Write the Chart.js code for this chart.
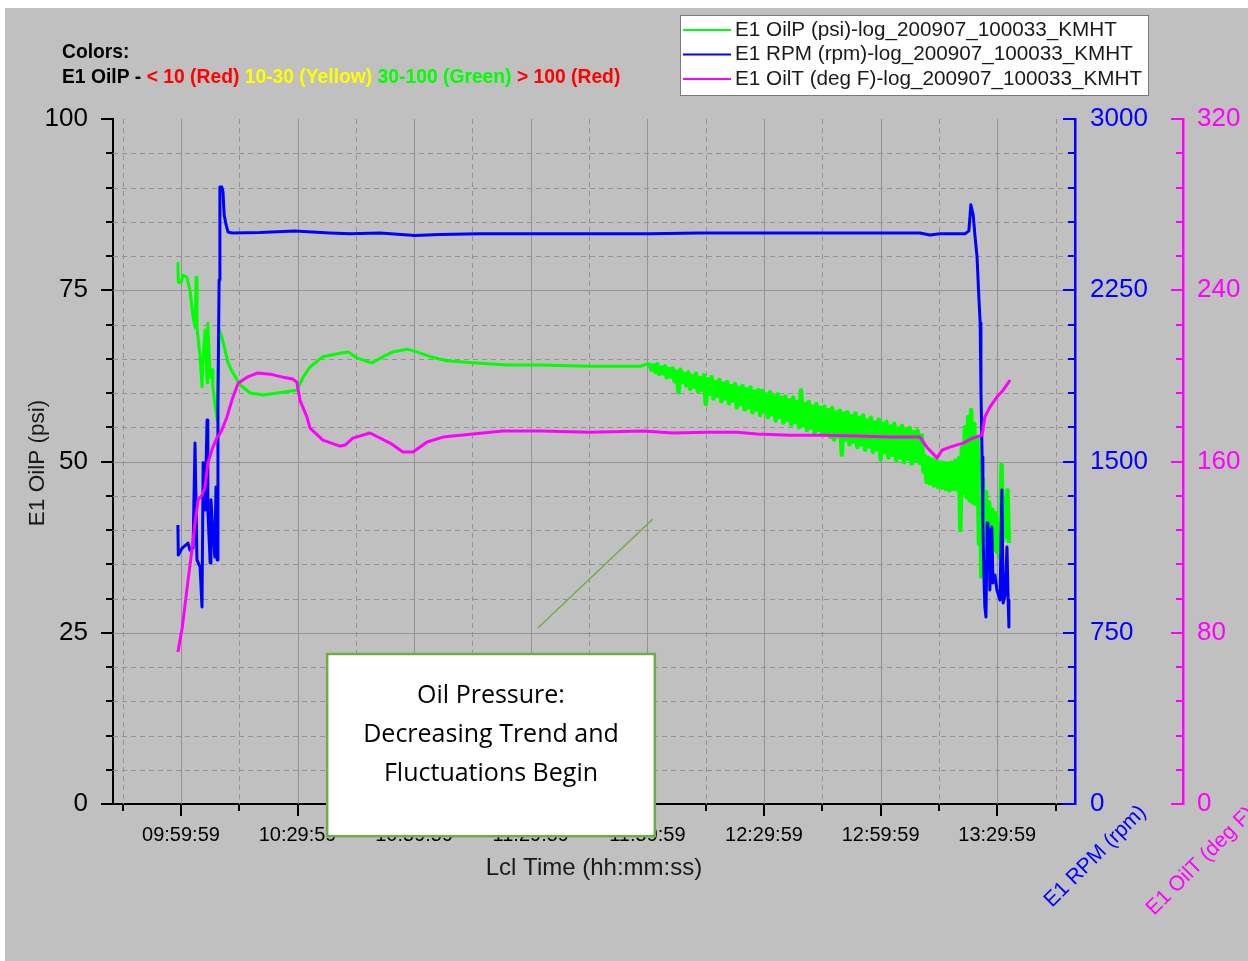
<!DOCTYPE html>
<html>
<head>
<meta charset="utf-8">
<title>E1 OilP / RPM / OilT</title>
<script src="https://cdn.jsdelivr.net/npm/chart.js@4.4.0/dist/chart.umd.min.js"></script>
<style>
    html, body { margin: 0; padding: 0; background: #ffffff; }
    #engineChart { display: block; }
</style>
</head>
<body>
<canvas id="engineChart" width="1248" height="961"></canvas>
<script>
"use strict";

// times are minutes after midnight (local time), e.g. 600 = 10:00:00
const timeTickLabels = ['09:59:59', '10:29:59', '10:59:59', '11:29:59', '11:59:59', '12:29:59', '12:59:59', '13:29:59'];
const timeRange = ['09:42:30', '13:50:00'];

const oilpTicks = [0, 25, 50, 75, 100];
const rpmTicks = [0, 750, 1500, 2250, 3000];
const oiltTicks = [0, 80, 160, 240, 320];

const seriesLabels = [
    'E1 OilP (psi)-log_200907_100033_KMHT',
    'E1 RPM (rpm)-log_200907_100033_KMHT',
    'E1 OilT (deg F)-log_200907_100033_KMHT'
];

// the pressure signal gets noisy from about 12:00 on
const oilpNoisyFrom = 720;

const oilpTime = [
    599.2, 599.3, 600.0, 600.5, 601.5, 602.3, 603.1, 603.6, 603.9, 604.1,
    604.9, 605.4, 605.7, 606.2, 606.7, 606.9, 607.5, 608.0, 608.2, 608.7,
    609.3, 609.8, 610.5, 611.3, 612.1, 613.4, 615.2, 617.8, 621.1, 626.2,
    629.8, 631.4, 633.2, 636.5, 640.9, 643.0, 645.3, 649.1, 652.0, 654.5,
    658.1, 660.7, 664.1, 668.4, 675.1, 683.9, 692.4, 705.2, 718.1,
    720.5, 721, 721.5, 722, 722.5, 723, 723.5, 724, 724.5, 725,
    725.5, 726, 726.5, 727, 727.5, 728, 728.5, 729, 729.5, 730,
    730.5, 731, 731.5, 732, 732.5, 733, 733.5, 734, 734.5, 735,
    735.5, 736, 736.5, 737, 737.5, 738, 738.5, 739, 739.5, 740,
    740.5, 741, 741.5, 742, 742.5, 743, 743.5, 744, 744.5, 745,
    745.5, 746, 746.5, 747, 747.5, 748, 748.5, 749, 749.5, 750,
    750.5, 751, 751.5, 752, 752.5, 753, 753.5, 754, 754.5, 755,
    755.5, 756, 756.5, 757, 757.5, 758, 758.5, 759, 759.5, 760,
    760.5, 761, 761.5, 762, 762.5, 763, 763.5, 764, 764.5, 765,
    765.5, 766, 766.5, 767, 767.5, 768, 768.5, 769, 769.5, 770,
    770.5, 771, 771.5, 772, 772.5, 773, 773.5, 774, 774.5, 775,
    775.5, 776, 776.5, 777, 777.5, 778, 778.5, 779, 779.5, 780,
    780.5, 781, 781.5, 782, 782.5, 783, 783.5, 784, 784.5, 785,
    785.5, 786, 786.5, 787, 787.5, 788, 788.5, 789, 789.5, 790,
    790.6, 791.0, 791.4, 791.8, 792.3, 792.7, 793.2, 793.7, 794.2, 794.7,
    795.2, 795.7, 796.2, 796.7, 797.2, 797.7, 798.2, 798.7, 799.2, 799.7,
    800.2, 800.5, 800.9, 801.3, 801.7, 802.1, 802.5, 802.9, 803.3, 803.7,
    804.1, 804.5, 804.9, 805.3, 805.6, 805.9, 806.3, 806.7, 807.1, 807.5,
    807.9, 808.3, 808.7, 809.1, 809.5, 809.9, 810.3, 810.7, 811.1, 811.5,
    811.9, 812.3, 812.6, 813.0
];
const oilpPsi = [
    79.1, 76.2, 76.1, 77.2, 76.9, 75.0, 71.1, 69.6, 76.9, 69.6,
    65.3, 60.9, 65.3, 69.2, 61.5, 70.2, 62.3, 63.4, 60.9, 58.5,
    56.1, 69.2, 68.2, 66.3, 64.4, 62.9, 61.2, 60.0, 59.7, 60.1,
    60.4, 62.3, 63.8, 65.3, 65.8, 66.0, 65.1, 64.4, 65.3, 66.0,
    66.4, 66.0, 65.3, 64.7, 64.4, 64.1, 64.1, 63.9, 63.9,
    64.3, 63.4, 64.0, 63.1, 64.2, 62.8, 63.7, 62.9, 63.9, 62.3,
    63.5, 62.4, 63.6, 61.7, 63.1, 60.1, 63.4, 61.6, 62.8, 61.1,
    63.0, 60.6, 62.5, 60.9, 62.8, 60.2, 62.2, 60.5, 62.6, 58.4,
    62.0, 59.9, 62.3, 59.2, 61.6, 59.6, 61.9, 58.8, 61.4, 59.2,
    61.6, 58.5, 61.0, 58.9, 61.3, 57.9, 60.8, 58.4, 61.0, 57.6,
    60.5, 57.9, 60.8, 57.2, 60.2, 57.6, 60.4, 56.8, 60.3, 57.3,
    59.8, 56.5, 60.1, 56.9, 59.5, 56.0, 59.8, 56.5, 59.3, 55.7,
    59.5, 56.1, 58.9, 55.4, 59.3, 55.8, 58.7, 55.0, 60.4, 55.3,
    58.4, 54.6, 58.7, 55.0, 58.0, 54.2, 58.4, 54.6, 57.8, 53.9,
    58.0, 54.2, 57.5, 53.6, 57.8, 53.2, 57.2, 53.7, 57.4, 51.0,
    57.0, 53.2, 57.2, 52.5, 56.6, 52.9, 57.0, 52.1, 56.4, 52.5,
    56.7, 51.7, 56.0, 52.2, 56.4, 51.4, 55.7, 51.8, 56.1, 50.3,
    55.5, 51.4, 55.8, 50.6, 55.1, 51.0, 55.5, 50.2, 54.8, 50.6,
    55.2, 49.9, 54.6, 50.4, 54.9, 49.7, 54.3, 50.2, 54.5, 49.8,
    53.8, 48.5, 50.8, 47.0, 50.5, 46.8, 50.3, 46.5, 50.1, 46.3,
    49.9, 46.2, 49.8, 46.0, 49.7, 45.8, 49.8, 46.0, 50.1, 45.9,
    50.5, 40.0, 52.0, 45.5, 55.0, 44.8, 56.5, 44.3, 57.5, 44.0,
    55.5, 43.8, 53.5, 38.0, 50.0, 33.2, 47.5, 38.5, 45.5, 40.0,
    44.0, 36.5, 43.0, 37.2, 42.5, 36.8, 41.0, 36.0, 49.5, 38.5,
    44.5, 39.0, 45.8, 38.1
];

const rpmTime = [
    599.2, 599.3, 600.3, 601.8, 602.3, 603.1, 603.6, 604.1, 604.9, 605.4,
    605.7, 606.2, 606.7, 606.9, 607.5, 607.7, 608.2, 608.7, 609.0, 609.3,
    609.5, 609.8, 610.0, 610.5, 610.8, 611.1, 611.6, 612.1, 613.1, 620.3,
    629.3, 638.3, 643.5, 651.2, 660.2, 666.6, 676.9, 689.8, 707.8, 720.7,
    733.5, 749.0, 764.4, 779.8, 790.1, 792.7, 795.3, 801.7, 802.7, 803.2,
    803.8, 804.3, 804.8, 805.3, 805.6, 805.8, 806.1, 806.3, 806.6, 806.8,
    807.1, 807.4, 807.6, 807.9, 808.1, 808.6, 808.9, 809.4, 809.9, 810.7,
    811.2, 811.5, 812.0, 812.5, 812.8, 813.0
];
const rpmValues = [
    1222, 1090, 1121, 1143, 1112, 1121, 1581, 1069, 1038, 863,
    1494, 1288, 1682, 1288, 1056, 1332, 1200, 1082, 1388, 1069,
    1756, 2295, 2702, 2702, 2681, 2580, 2536, 2505, 2501, 2503,
    2510, 2501, 2497, 2501, 2490, 2494, 2497, 2497, 2497, 2497,
    2501, 2501, 2501, 2501, 2501, 2492, 2497, 2497, 2510, 2624,
    2580, 2483, 2396, 2207, 2107, 1813, 1520, 1231, 981, 863,
    819, 1231, 1134, 1200, 937, 1213, 968, 1003, 937, 893,
    1375, 880, 915, 1126, 893, 775
];

const oiltTime = [
    599.2, 600.3, 601.5, 602.8, 603.6, 604.4, 605.4, 606.2, 606.9, 608.2,
    609.3, 609.8, 610.5, 611.8, 613.1, 614.7, 617.0, 619.6, 622.9, 626.2,
    628.8, 629.8, 630.6, 632.4, 633.2, 636.5, 640.9, 642.2, 644.2, 648.6,
    653.8, 657.1, 659.7, 663.3, 667.4, 675.1, 682.8, 692.4, 705.2, 718.9,
    726.6, 735.3, 743.0, 748.2, 756.7, 765.2, 773.9, 782.4, 790.1, 791.9,
    794.5, 795.8, 797.8, 801.2, 803.8, 806.1, 806.8, 808.1, 809.9, 811.5,
    813.3
];
const oiltDegF = [
    71.0, 82.2, 99.9, 118.6, 131.2, 142.0, 144.3, 148.0, 159.2, 166.7,
    171.4, 172.3, 174.7, 180.7, 188.7, 196.6, 199.4, 201.3, 200.8, 199.4,
    198.5, 197.1, 188.7, 180.7, 175.6, 170.0, 167.2, 167.7, 170.9, 173.3,
    168.6, 164.4, 164.4, 169.1, 171.4, 172.8, 174.2, 174.2, 173.7, 174.2,
    173.3, 173.7, 173.7, 172.8, 172.3, 172.3, 171.9, 171.4, 171.4, 166.7,
    161.6, 165.3, 166.7, 168.6, 171.0, 172.3, 180.7, 185.4, 190.1, 193.3,
    198.0
];

// callout, in [minutes, psi]
const noteBox = [637.6, 21.9, 721.9, -4.7];
const notePointer = [691.8, 25.7, 721.4, 41.6];
const noteLines = ['Oil Pressure:', 'Decreasing Trend and', 'Fluctuations Begin'];

const colorKey = [
    ['E1 OilP - ', '#000000'],
    ['< 10 (Red) ', '#ff0000'],
    ['10-30 (Yellow) ', '#ffff00'],
    ['30-100 (Green) ', '#00ff00'],
    ['> 100 (Red)', '#ff0000']
];

const GREEN = '#00ff00';
const BLUE = '#0000ff';
const MAGENTA = '#ff00ff';
const FONT = '"Liberation Sans", Arial, sans-serif';

function toMinutes(hms) {
    const p = hms.split(':').map(Number);
    return p[0] * 60 + p[1] + p[2] / 60;
}

function toPoints(xs, ys) {
    return xs.map((x, i) => ({ x: x, y: ys[i] }));
}

// majors plus (parts - 1) minor ticks between each pair
function withMinor(majors, parts) {
    const out = [];
    for (let i = 0; i < majors.length; i++) {
        out.push({ value: majors[i], isMajor: true });
        if (i < majors.length - 1) {
            const step = (majors[i + 1] - majors[i]) / parts;
            for (let k = 1; k < parts; k++) {
                out.push({ value: majors[i] + k * step, isMajor: false });
            }
        }
    }
    return out;
}

const xMin = toMinutes(timeRange[0]);
const xMax = toMinutes(timeRange[1]);

function timeTicks() {
    const out = [];
    timeTickLabels.forEach(label => {
        const t = toMinutes(label);
        out.push({ value: t - 15, isMajor: false });
        out.push({ value: t, isMajor: true, text: label });
    });
    const last = toMinutes(timeTickLabels[timeTickLabels.length - 1]);
    out.push({ value: last + 15, isMajor: false });
    return out.filter(t => t.value >= xMin && t.value <= xMax);
}

function sideAxis(min, max, majors, color, width, pad, weight) {
    return {
        type: 'linear',
        position: 'right',
        weight: weight,
        min: min,
        max: max,
        afterBuildTicks: scale => { scale.ticks = withMinor(majors, 5); },
        afterFit: scale => { scale.width = width; },
        grid: { display: false, drawTicks: false },
        border: { display: true, color: color, width: 2.5 },
        ticks: {
            autoSkip: false,
            padding: pad,
            color: color,
            font: { family: FONT, size: 26 },
            callback: value => majors.includes(value) ? String(value) : ''
        }
    };
}

function drawTickMarks(ctx, scale, color, dir, vertical) {
    ctx.strokeStyle = color;
    scale.ticks.forEach(t => {
        const len = t.isMajor ? 12 : 7;
        const p = Math.round(scale.getPixelForValue(t.value));
        ctx.beginPath();
        if (vertical) {
            const x0 = dir < 0 ? scale.right : scale.left;
            ctx.moveTo(x0, p);
            ctx.lineTo(x0 - len, p);
        } else {
            ctx.moveTo(p, scale.top);
            ctx.lineTo(p, scale.top + len);
        }
        ctx.stroke();
    });
}

const decor = {
    id: 'decor',
    beforeDraw(chart) {
        const ctx = chart.ctx;
        ctx.save();
        ctx.fillStyle = '#ffffff';
        ctx.fillRect(0, 0, chart.width, chart.height);
        ctx.fillStyle = '#c0c0c0';
        ctx.fillRect(5, 8, chart.width - 5, chart.height - 8);
        ctx.restore();
    },
    beforeDatasetsDraw(chart) {
        const { ctx, chartArea: a, scales } = chart;
        ctx.save();
        ctx.lineWidth = 1;
        ctx.strokeStyle = '#939393';
        scales.x.ticks.forEach(t => {
            const px = Math.round(scales.x.getPixelForValue(t.value)) + 0.5;
            ctx.setLineDash(t.isMajor ? [] : [5, 4]);
            ctx.beginPath();
            ctx.moveTo(px, a.top);
            ctx.lineTo(px, a.bottom);
            ctx.stroke();
        });
        scales.y.ticks.forEach(t => {
            if (t.value <= 0 || t.value >= 100) return;
            const py = Math.round(scales.y.getPixelForValue(t.value)) + 0.5;
            ctx.setLineDash(t.isMajor ? [] : [5, 4]);
            ctx.beginPath();
            ctx.moveTo(a.left, py);
            ctx.lineTo(a.right, py);
            ctx.stroke();
        });
        ctx.restore();
    },
    afterDraw(chart) {
        const { ctx, scales } = chart;
        const x = scales.x, y = scales.y;
        ctx.save();

        // tick marks
        ctx.lineWidth = 2;
        drawTickMarks(ctx, x, '#000000', 1, false);
        drawTickMarks(ctx, y, '#000000', -1, true);
        drawTickMarks(ctx, scales.y1, BLUE, 1, true);
        drawTickMarks(ctx, scales.y2, MAGENTA, 1, true);

        // axis titles
        ctx.fillStyle = '#1a1a1a';
        ctx.textAlign = 'center';
        ctx.textBaseline = 'middle';
        ctx.font = '24px ' + FONT;
        ctx.fillText('Lcl Time (hh:mm:ss)', 594, 868);
        ctx.save();
        ctx.translate(38, 463);
        ctx.rotate(-Math.PI / 2);
        ctx.font = '22.5px ' + FONT;
        ctx.fillText('E1 OilP (psi)', 0, 0);
        ctx.restore();

        ctx.textAlign = 'left';
        ctx.textBaseline = 'alphabetic';
        ctx.font = '21px ' + FONT;
        [['E1 RPM (rpm)', BLUE, 1052, 908], ['E1 OilT (deg F)', MAGENTA, 1154, 916]].forEach(r => {
            ctx.save();
            ctx.translate(r[2], r[3]);
            ctx.rotate(-Math.PI / 4);
            ctx.fillStyle = r[1];
            ctx.fillText(r[0], 0, 0);
            ctx.restore();
        });

        // colour key
        ctx.textBaseline = 'middle';
        ctx.font = 'bold 19.3px ' + FONT;
        ctx.fillStyle = '#000000';
        ctx.fillText('Colors:', 62, 53);
        let cx = 62;
        colorKey.forEach(seg => {
            ctx.fillStyle = seg[1];
            ctx.fillText(seg[0], cx, 78);
            cx += ctx.measureText(seg[0]).width;
        });

        // legend
        ctx.fillStyle = '#ffffff';
        ctx.fillRect(680, 15, 468, 80);
        ctx.strokeStyle = '#7a7a7a';
        ctx.lineWidth = 1;
        ctx.strokeRect(680.5, 15.5, 468, 80);
        ctx.font = '20.7px ' + FONT;
        chart.data.datasets.forEach((ds, i) => {
            const ly = 30 + i * 24.5;
            ctx.strokeStyle = ds.borderColor;
            ctx.lineWidth = 2;
            ctx.beginPath();
            ctx.moveTo(683, ly);
            ctx.lineTo(731, ly);
            ctx.stroke();
            ctx.fillStyle = '#1a1a1a';
            ctx.fillText(ds.label, 735, ly);
        });

        // callout
        ctx.strokeStyle = '#70ad47';
        ctx.lineWidth = 1.5;
        ctx.beginPath();
        ctx.moveTo(x.getPixelForValue(notePointer[0]), y.getPixelForValue(notePointer[1]));
        ctx.lineTo(x.getPixelForValue(notePointer[2]), y.getPixelForValue(notePointer[3]));
        ctx.stroke();
        const bx0 = x.getPixelForValue(noteBox[0]), by0 = y.getPixelForValue(noteBox[1]);
        const bx1 = x.getPixelForValue(noteBox[2]), by1 = y.getPixelForValue(noteBox[3]);
        ctx.fillStyle = '#ffffff';
        ctx.fillRect(bx0, by0, bx1 - bx0, by1 - by0);
        ctx.lineWidth = 2.5;
        ctx.strokeRect(bx0, by0, bx1 - bx0, by1 - by0);
        ctx.fillStyle = '#000000';
        ctx.textAlign = 'center';
        ctx.font = '25px "Open Sans", "Noto Sans", sans-serif';
        noteLines.forEach((line, i) => {
            ctx.fillText(line, (bx0 + bx1) / 2, by0 + 42 + i * 39);
        });

        ctx.restore();
    }
};

new Chart(document.getElementById('engineChart'), {
    type: 'line',
    data: {
        datasets: [{
            label: seriesLabels[0],
            data: toPoints(oilpTime, oilpPsi),
            borderColor: GREEN,
            borderWidth: 3,
            // the dense noisy stretch is drawn a bit heavier so it reads as a band
            segment: {
                borderWidth: c => c.p0.parsed.x >= oilpNoisyFrom ? 4.5 : undefined
            },
            yAxisID: 'y',
            order: 3
        }, {
            label: seriesLabels[1],
            data: toPoints(rpmTime, rpmValues),
            borderColor: BLUE,
            borderWidth: 3,
            yAxisID: 'y1',
            order: 2
        }, {
            label: seriesLabels[2],
            data: toPoints(oiltTime, oiltDegF),
            borderColor: MAGENTA,
            borderWidth: 3,
            yAxisID: 'y2',
            order: 1
        }]
    },
    options: {
        responsive: false,
        maintainAspectRatio: false,
        animation: false,
        layout: { padding: { top: 119, left: 0, right: 0, bottom: 0 } },
        elements: {
            point: { radius: 0 },
            line: { tension: 0, fill: false, borderJoinStyle: 'round' }
        },
        plugins: {
            legend: { display: false },
            tooltip: { enabled: false }
        },
        scales: {
            x: {
                type: 'linear',
                position: 'bottom',
                min: xMin,
                max: xMax,
                afterBuildTicks: scale => { scale.ticks = timeTicks(); },
                afterFit: scale => { scale.height = 157; },
                grid: { display: false, drawTicks: false },
                border: { display: true, color: '#000000', width: 2 },
                ticks: {
                    autoSkip: false,
                    maxRotation: 0,
                    minRotation: 0,
                    padding: 19,
                    color: '#000000',
                    font: { family: FONT, size: 20 },
                    callback: (value, index, ticks) => ticks[index].text || ''
                }
            },
            y: {
                type: 'linear',
                position: 'left',
                min: 0,
                max: 100,
                afterBuildTicks: scale => { scale.ticks = withMinor(oilpTicks, 5); },
                afterFit: scale => { scale.width = 113; },
                grid: { display: false, drawTicks: false },
                border: { display: true, color: '#000000', width: 2 },
                ticks: {
                    autoSkip: false,
                    padding: 25,
                    color: '#000000',
                    font: { family: FONT, size: 26 },
                    callback: value => oilpTicks.includes(value) ? String(value) : ''
                }
            },
            y1: sideAxis(0, 3000, rpmTicks, BLUE, 108, 15, 0),
            y2: sideAxis(0, 320, oiltTicks, MAGENTA, 65, 14, 1)
        }
    },
    plugins: [decor]
});
</script>
</body>
</html>
